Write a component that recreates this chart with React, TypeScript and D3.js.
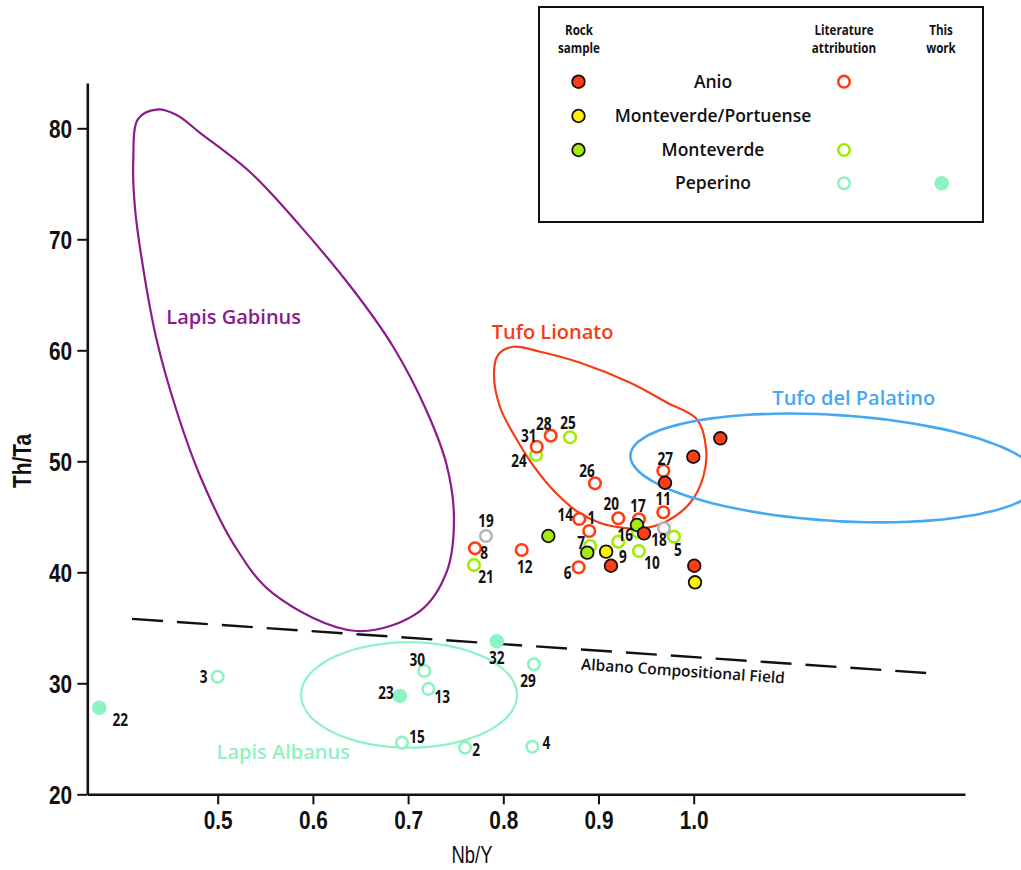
import React, { useEffect, useRef } from 'react';
import * as d3 from 'd3';

// ---- data (Nb/Y, Th/Ta) ----
const xTicks = [0.5, 0.6, 0.7, 0.8, 0.9, 1.0];
const yTicks = [20, 30, 40, 50, 60, 70, 80];

// rock samples (filled, black outline)
const anioRock: [string, number, number][] = [
    ['', 1.028, 52.07], ['', 0.9996, 50.41], ['', 0.9699, 48.07],
    ['', 0.9478, 43.51], ['9', 0.9131, 40.59], ['', 1.0006, 40.59],
];
const portuenseRock: [string, number, number][] = [
    ['', 0.908, 41.86], ['', 1.0014, 39.1],
];
const monteverdeRock: [string, number, number][] = [
    ['', 0.8473, 43.27], ['', 0.8882, 41.77], ['', 0.9404, 44.26],
];

// literature attribution (open circles)
const anioLit: [string, number, number][] = [
    ['28', 0.8498, 52.31], ['31', 0.8351, 51.31], ['26', 0.8963, 48.02], ['27', 0.9681, 49.15],
    ['11', 0.9681, 45.41], ['20', 0.9208, 44.86], ['17', 0.9425, 44.77], ['14', 0.8798, 44.8],
    ['1', 0.8903, 43.72], ['12', 0.8193, 42.01], ['8', 0.7703, 42.16], ['6', 0.8792, 40.45],
];
const monteverdeLit: [string, number, number][] = [
    ['25', 0.8701, 52.16], ['24', 0.8344, 50.57], ['21', 0.7692, 40.66], ['7', 0.8913, 42.37],
    ['16', 0.9208, 42.76], ['', 0.9412, 43.66], ['10', 0.9425, 41.92], ['5', 0.9793, 43.21],
];
const unknownLit: [string, number, number][] = [
    ['19', 0.7818, 43.27], ['18', 0.9688, 43.96],
];
const peperinoLit: [string, number, number][] = [
    ['3', 0.5, 30.59], ['30', 0.717, 31.11], ['13', 0.7212, 29.49], ['15', 0.6936, 24.65],
    ['2', 0.7598, 24.2], ['4', 0.8305, 24.29], ['29', 0.8322, 31.71],
];
// this work
const peperinoNew: [string, number, number][] = [
    ['22', 0.3756, 27.8], ['23', 0.6915, 28.86], ['32', 0.7931, 33.78],
];

// field outlines
const lapisGabinus: [number, number][] = [
    [0.4359, 81.69], [0.4569, 81.2], [0.4814, 79.59], [0.5339, 76.06], [0.5864, 71.23],
    [0.6424, 65.43], [0.6845, 60.3], [0.7195, 54.53], [0.7405, 49.67], [0.7482, 44.84],
    [0.7405, 40.03], [0.7125, 36.51], [0.646, 34.71], [0.5584, 38.08], [0.5164, 42.59],
    [0.4814, 48.7], [0.4569, 54.53], [0.4359, 60.93], [0.4218, 67.36], [0.4131, 72.82],
    [0.4113, 77.05], [0.4166, 80.87],
];
const tufoLionato: [number, number][] = [
    [0.8104, 60.32], [0.8387, 59.87], [0.8808, 58.88], [0.9333, 57.08], [0.9722, 55.28],
    [1.0037, 53.75], [1.0131, 51.05], [1.01, 48.59], [0.9961, 46.24], [0.9722, 44.62],
    [0.949, 43.99], [0.928, 43.99], [0.9016, 44.44], [0.8785, 45.43], [0.8543, 47.23],
    [0.8333, 49.4], [0.8144, 51.92], [0.7965, 54.89], [0.7902, 57.95], [0.7944, 59.57],
];
const lapisAlbanus = { cx: 0.701, cy: 28.95, rx: 0.1134, ry: 4.75, angle: 0 };
const tufoPalatino = { cx: 1.1484, cy: 49.4, rx: 0.2153, ry: 4.77, angle: 3.6 };
const albanoLine: [number, number][] = [[0.41, 35.8], [1.25, 30.9]];

const legendRows = ['Anio', 'Monteverde/Portuense', 'Monteverde', 'Peperino'];

// label offsets (px) for the sample numbers
const labelOffset: Record<string, [number, number]> = {
    '28': [-7, -12], '25': [-2, -14], '31': [-8, -11], '24': [-17, 6], '26': [-8, -12],
    '27': [2, -12], '11': [0, -13], '20': [-7, -14], '17': [-1, -13], '14': [-14, -4],
    '1': [2, -13], '16': [7, -7], '7': [-9, -3], '9': [12, -9], '10': [13, 12],
    '18': [-5, 12], '5': [4, 13], '19': [0, -15], '8': [9, 5], '21': [12, 12],
    '12': [3, 17], '6': [-11, 6], '3': [-14, 0], '30': [-7, -11], '13': [14, 8],
    '23': [-14, -3], '15': [15, -6], '2': [11, 2], '4': [14, -4], '29': [-6, 17],
    '32': [0, 17], '22': [21, 12],
};

const COL = {
    anio: '#ff3d12', yellow: '#fff200', lime: '#a6e810', limeRing: '#9eee00',
    mint: '#8df3c3', gray: '#b5b5b5', purple: '#8c1a8c', blue: '#45a9f2', lionato: '#f63c17',
};
const LABEL_FONT = "'Open Sans', sans-serif";
const AXIS_FONT = "'Liberation Sans', Arial, sans-serif";

export default function App() {
    const ref = useRef<SVGSVGElement>(null);

    useEffect(() => {
        if (!ref.current) return;
        const svg = d3.select(ref.current);
        svg.selectAll('*').remove();

        const xs = d3.scaleLinear().domain([0.5, 1.0]).range([217.7, 693.7]);
        const x = xs.copy().domain([xs.invert(87.3), xs.invert(965)]).range([87.3, 965]);
        const ys = d3.scaleLinear().domain([20, 80]).range([794.3, 128.3]);
        const y = ys.copy().domain([20, ys.invert(83)]).range([794.3, 83]);

        // fields
        const closed = d3.line<[number, number]>()
            .x(d => x(d[0])).y(d => y(d[1]))
            .curve(d3.curveCatmullRomClosed.alpha(0.5));

        const ellipse = (e: typeof lapisAlbanus) => {
            const cx = x(e.cx), cy = y(e.cy);
            const rx = x(e.cx + e.rx) - cx, ry = cy - y(e.cy + e.ry);
            const a = (e.angle * Math.PI) / 180;
            const pts: [number, number][] = d3.range(0, 360, 4).map(t => {
                const r = (t * Math.PI) / 180;
                const u = rx * Math.cos(r), v = ry * Math.sin(r);
                return [cx + u * Math.cos(a) - v * Math.sin(a), cy + u * Math.sin(a) + v * Math.cos(a)];
            });
            return d3.line().curve(d3.curveCardinalClosed)(pts);
        };

        svg.append('path').attr('d', closed(lapisGabinus)).attr('fill', 'none')
            .attr('stroke', COL.purple).attr('stroke-width', 2.2);
        svg.append('path').attr('d', ellipse(lapisAlbanus)).attr('fill', 'none')
            .attr('stroke', COL.mint).attr('stroke-width', 2.2);
        svg.append('path').attr('d', closed(tufoLionato)).attr('fill', 'none')
            .attr('stroke', COL.lionato).attr('stroke-width', 2.2);
        svg.append('path').attr('d', ellipse(tufoPalatino)).attr('fill', 'none')
            .attr('stroke', COL.blue).attr('stroke-width', 2.6);

        // Albano compositional field line
        svg.append('path')
            .attr('d', d3.line<[number, number]>().x(d => x(d[0])).y(d => y(d[1]))(albanoLine))
            .attr('stroke', '#111').attr('stroke-width', 2.4).attr('fill', 'none')
            .attr('stroke-dasharray', '31,14');
        const ang = Math.atan2(y(albanoLine[1][1]) - y(albanoLine[0][1]), x(albanoLine[1][0]) - x(albanoLine[0][0])) * 180 / Math.PI;
        svg.append('text')
            .attr('transform', `translate(683,671) rotate(${ang})`)
            .attr('text-anchor', 'middle').attr('dy', '0.35em')
            .style('font-family', LABEL_FONT).style('font-weight', 600).style('font-size', '15.5px')
            .style('fill', '#111').text('Albano Compositional Field');

        // field names
        const fieldLabel = (t: string, px: number, py: number, c: string) =>
            svg.append('text').attr('x', px).attr('y', py).attr('dy', '0.35em')
                .attr('text-anchor', 'middle')
                .style('font-family', LABEL_FONT).style('font-weight', 600).style('font-size', '20px')
                .style('fill', c).text(t);
        fieldLabel('Lapis Gabinus', 233.7, 316.8, COL.purple);
        fieldLabel('Tufo Lionato', 552.5, 331.7, COL.lionato);
        fieldLabel('Tufo del Palatino', 853.8, 398.3, COL.blue);
        fieldLabel('Lapis Albanus', 283.3, 751.7, COL.mint);

        // axes
        const gx = svg.append('g').attr('transform', 'translate(0,794.3)')
            .call(d3.axisBottom(x).tickValues(xTicks).tickFormat(d3.format('.1f')).tickSize(10).tickSizeOuter(0));
        gx.select('.domain').attr('stroke', '#111').attr('stroke-width', 2.6);
        gx.selectAll('.tick line').attr('stroke', '#111').attr('stroke-width', 2);
        gx.selectAll('.tick text')
            .attr('y', 16).attr('dy', '0.71em').attr('transform', 'scale(0.8,1)')
            .style('font-family', AXIS_FONT).style('font-weight', 'bold').style('font-size', '26px')
            .style('fill', '#111');

        const gy = svg.append('g').attr('transform', 'translate(87.3,0)')
            .call(d3.axisLeft(y).tickValues(yTicks).tickSize(10).tickSizeOuter(0));
        gy.select('.domain').attr('stroke', '#111').attr('stroke-width', 2.6);
        gy.selectAll('.tick line').attr('stroke', '#111').attr('stroke-width', 2);
        gy.selectAll('.tick text')
            .attr('x', -19).attr('dy', '0.36em').attr('transform', 'scale(0.8,1)')
            .style('font-family', AXIS_FONT).style('font-weight', 'bold').style('font-size', '26px')
            .style('fill', '#111');

        svg.append('text')
            .attr('transform', 'translate(472,855) scale(0.8,1)')
            .attr('text-anchor', 'middle').attr('dy', '0.36em')
            .style('font-family', AXIS_FONT).style('font-size', '23px').style('fill', '#111')
            .text('Nb/Y');
        svg.append('text')
            .attr('transform', 'translate(22,461) rotate(-90) scale(0.8,1)')
            .attr('text-anchor', 'middle').attr('dy', '0.36em')
            .style('font-family', AXIS_FONT).style('font-weight', 'bold').style('font-size', '26px')
            .style('fill', '#111').text('Th/Ta');

        // markers
        const ring = (data: [string, number, number][], c: string) =>
            svg.append('g').selectAll('circle').data(data).enter().append('circle')
                .attr('cx', d => x(d[1])).attr('cy', d => y(d[2])).attr('r', 5.8)
                .attr('fill', '#fff').attr('stroke', c).attr('stroke-width', 2.6);
        const dot = (data: [string, number, number][], c: string) =>
            svg.append('g').selectAll('circle').data(data).enter().append('circle')
                .attr('cx', d => x(d[1])).attr('cy', d => y(d[2])).attr('r', 6.3)
                .attr('fill', c).attr('stroke', '#111').attr('stroke-width', 1.8);

        ring(monteverdeLit, COL.limeRing);
        ring(unknownLit, COL.gray);
        ring(anioLit, COL.anio);
        ring(peperinoLit, COL.mint);
        svg.append('g').selectAll('circle').data(peperinoNew).enter().append('circle')
            .attr('cx', d => x(d[1])).attr('cy', d => y(d[2])).attr('r', 7.3).attr('fill', COL.mint);
        dot(monteverdeRock, COL.lime);
        dot(portuenseRock, COL.yellow);
        dot(anioRock, COL.anio);

        // sample numbers
        const all = [...anioRock, ...portuenseRock, ...monteverdeRock, ...anioLit,
            ...monteverdeLit, ...unknownLit, ...peperinoLit, ...peperinoNew].filter(d => d[0] !== '');
        svg.append('g').selectAll('text').data(all).enter().append('text')
            .attr('transform', d => {
                const o = labelOffset[d[0]] || [0, -12];
                return `translate(${x(d[1]) + o[0]},${y(d[2]) + o[1]}) scale(0.8,1)`;
            })
            .attr('text-anchor', 'middle').attr('dy', '0.36em')
            .style('font-family', LABEL_FONT).style('font-weight', 700).style('font-size', '17px')
            .style('fill', '#111').text(d => d[0]);

        // legend
        const lg = svg.append('g');
        lg.append('rect').attr('x', 539).attr('y', 7).attr('width', 444).attr('height', 215)
            .attr('fill', '#fff').attr('stroke', '#111').attr('stroke-width', 2);
        const head = (lines: string[], cx: number) => lines.forEach((t, i) =>
            lg.append('text').attr('transform', `translate(${cx},${30 + i * 18}) scale(0.83,1)`)
                .attr('text-anchor', 'middle').attr('dy', '0.36em')
                .style('font-family', LABEL_FONT).style('font-weight', 700).style('font-size', '14px')
                .style('fill', '#111').text(t));
        head(['Rock', 'sample'], 579);
        head(['Literature', 'attribution'], 844);
        head(['This', 'work'], 941);
        const rowY = [81.7, 116, 150, 183.3];
        legendRows.forEach((t, i) => {
            lg.append('text').attr('x', 713).attr('y', rowY[i]).attr('dy', '0.35em')
                .attr('text-anchor', 'middle')
                .style('font-family', LABEL_FONT).style('font-weight', 600).style('font-size', '17.5px')
                .style('fill', '#111').text(t);
        });
        const rockFill = [COL.anio, COL.yellow, COL.lime, null];
        const litStroke = [COL.anio, null, COL.limeRing, COL.mint];
        rowY.forEach((ry, i) => {
            if (rockFill[i]) lg.append('circle').attr('cx', 578.5).attr('cy', ry).attr('r', 6.3)
                .attr('fill', rockFill[i] as string).attr('stroke', '#111').attr('stroke-width', 1.8);
            if (litStroke[i]) lg.append('circle').attr('cx', 844).attr('cy', ry).attr('r', 5.8)
                .attr('fill', '#fff').attr('stroke', litStroke[i] as string).attr('stroke-width', 2.6);
        });
        lg.append('circle').attr('cx', 941.7).attr('cy', rowY[3]).attr('r', 7.3).attr('fill', COL.mint);
    }, []);

    return (
        <svg ref={ref} width={1021} height={870}
            style={{ position: 'absolute', left: 0, top: 0, background: '#fff' }} />
    );
}
